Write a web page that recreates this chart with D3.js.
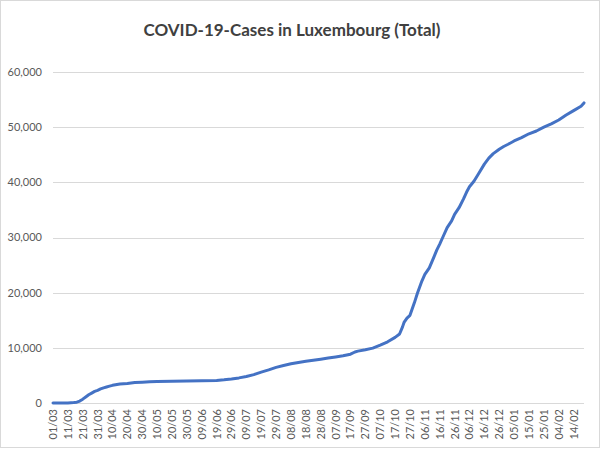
<!DOCTYPE html>
<html>
<head>
<meta charset="utf-8">
<script src="https://cdn.jsdelivr.net/npm/d3@7"></script>
<style>
  html, body { margin: 0; padding: 0; background: #fff; }
  svg { display: block; }
</style>
</head>
<body>
<svg id="chart" width="600" height="449"></svg>
<script>
// ---- data ----
const title = "COVID-19-Cases in Luxembourg (Total)";

const dates = [
  "01/03","06/03","11/03","15/03","17/03","19/03","21/03","23/03","25/03","27/03",
  "29/03","31/03","02/04","04/04","06/04","08/04","10/04","15/04","20/04","25/04",
  "30/04","05/05","10/05","20/05","30/05","09/06","19/06","24/06","29/06","04/07",
  "09/07","14/07","19/07","24/07","29/07","03/08","08/08","13/08","18/08","23/08",
  "28/08","02/09","07/09","12/09","17/09","20/09","22/09","27/09","02/10","07/10",
  "12/10","17/10","20/10","22/10","23/10","25/10","27/10","30/10","01/11","04/11",
  "06/11","09/11","12/11","14/11","16/11","18/11","21/11","24/11","26/11","29/11",
  "02/12","04/12","06/12","09/12","12/12","16/12","19/12","22/12","26/12","29/12",
  "01/01","05/01","10/01","15/01","20/01","25/01","30/01","04/02","09/02","14/02",
  "19/02","21/02"
];

const cases = [
  0, 10, 20, 80, 150, 350, 700, 1100, 1500, 1800,
  2100, 2300, 2550, 2750, 2900, 3050, 3200, 3450, 3550, 3700,
  3780, 3850, 3900, 3950, 4000, 4050, 4100, 4200, 4350, 4550,
  4800, 5150, 5600, 6000, 6450, 6800, 7100, 7350, 7550, 7750,
  7950, 8150, 8350, 8550, 8850, 9250, 9400, 9650, 9950, 10500,
  11100, 11900, 12500, 13800, 14600, 15400, 15900, 18200, 19900, 22100,
  23300, 24500, 26400, 27700, 28800, 30000, 31800, 33000, 34200, 35400,
  37000, 38200, 39200, 40200, 41500, 43300, 44400, 45200, 46000, 46500,
  46900, 47500, 48100, 48800, 49300, 50000, 50600, 51300, 52200, 53000,
  53800, 54400
];

const xTickLabels = [
  "01/03","11/03","21/03","31/03","10/04","20/04","30/04","10/05","20/05","30/05",
  "09/06","19/06","29/06","09/07","19/07","29/07","08/08","18/08","28/08","07/09",
  "17/09","27/09","07/10","17/10","27/10","06/11","16/11","26/11","06/12","16/12",
  "26/12","05/01","15/01","25/01","04/02","14/02"
];

const yTicks = [0, 10000, 20000, 30000, 40000, 50000, 60000];

// ---- helpers ----
function parseDM(s) {
  const [d, m] = s.split("/").map(Number);
  const year = m >= 3 ? 2020 : 2021;
  return new Date(Date.UTC(year, m - 1, d));
}

const data = dates.map((d, i) => ({ date: parseDM(d), value: cases[i] }));

// ---- layout ----
const svg = d3.select("#chart");
const W = 600, H = 449;
const plot = { left: 53, right: 584, top: 72, bottom: 403 };

svg.append("rect")
  .attr("x", 0.5).attr("y", 0.5)
  .attr("width", W - 1).attr("height", H - 2)
  .attr("fill", "#fff")
  .attr("stroke", "#d9d9d9");

const x = d3.scaleUtc()
  .domain([parseDM("01/03"), parseDM("21/02")])
  .range([plot.left, plot.right]);

const y = d3.scaleLinear()
  .domain([0, 60000])
  .range([plot.bottom, plot.top]);

// gridlines
svg.append("g")
  .selectAll("line")
  .data(yTicks)
  .join("line")
  .attr("x1", plot.left).attr("x2", plot.right)
  .attr("y1", d => Math.round(y(d)) + 0.5)
  .attr("y2", d => Math.round(y(d)) + 0.5)
  .attr("stroke", "#d9d9d9")
  .attr("stroke-width", 1);

// y labels
const fmt = d3.format(",");
svg.append("g")
  .selectAll("text")
  .data(yTicks)
  .join("text")
  .attr("x", 42)
  .attr("y", d => y(d))
  .attr("dy", "0.35em")
  .attr("text-anchor", "end")
  .attr("font-family", "Lato, 'Open Sans', sans-serif")
  .attr("font-size", 11)
  .attr("fill", "#595959")
  .text(d => fmt(d));

// x labels (rotated)
svg.append("g")
  .selectAll("text")
  .data(xTickLabels)
  .join("text")
  .attr("transform", d => `translate(${x(parseDM(d)) + 4},${plot.bottom + 6}) rotate(-90)`)
  .attr("text-anchor", "end")
  .attr("font-family", "Lato, 'Open Sans', sans-serif")
  .attr("font-size", 11)
  .attr("fill", "#595959")
  .text(d => d);

// line
const line = d3.line()
  .x(d => x(d.date))
  .y(d => y(d.value));

svg.append("path")
  .datum(data)
  .attr("d", line)
  .attr("fill", "none")
  .attr("stroke", "#4472c4")
  .attr("stroke-width", 3)
  .attr("stroke-linejoin", "round")
  .attr("stroke-linecap", "round");

// title
svg.append("text")
  .attr("x", 292)
  .attr("y", 36)
  .attr("text-anchor", "middle")
  .attr("font-family", "Lato, 'Open Sans', sans-serif")
  .attr("font-size", 17)
  .attr("font-weight", "bold")
  .attr("fill", "#404040")
  .text(title);
</script>
</body>
</html>
